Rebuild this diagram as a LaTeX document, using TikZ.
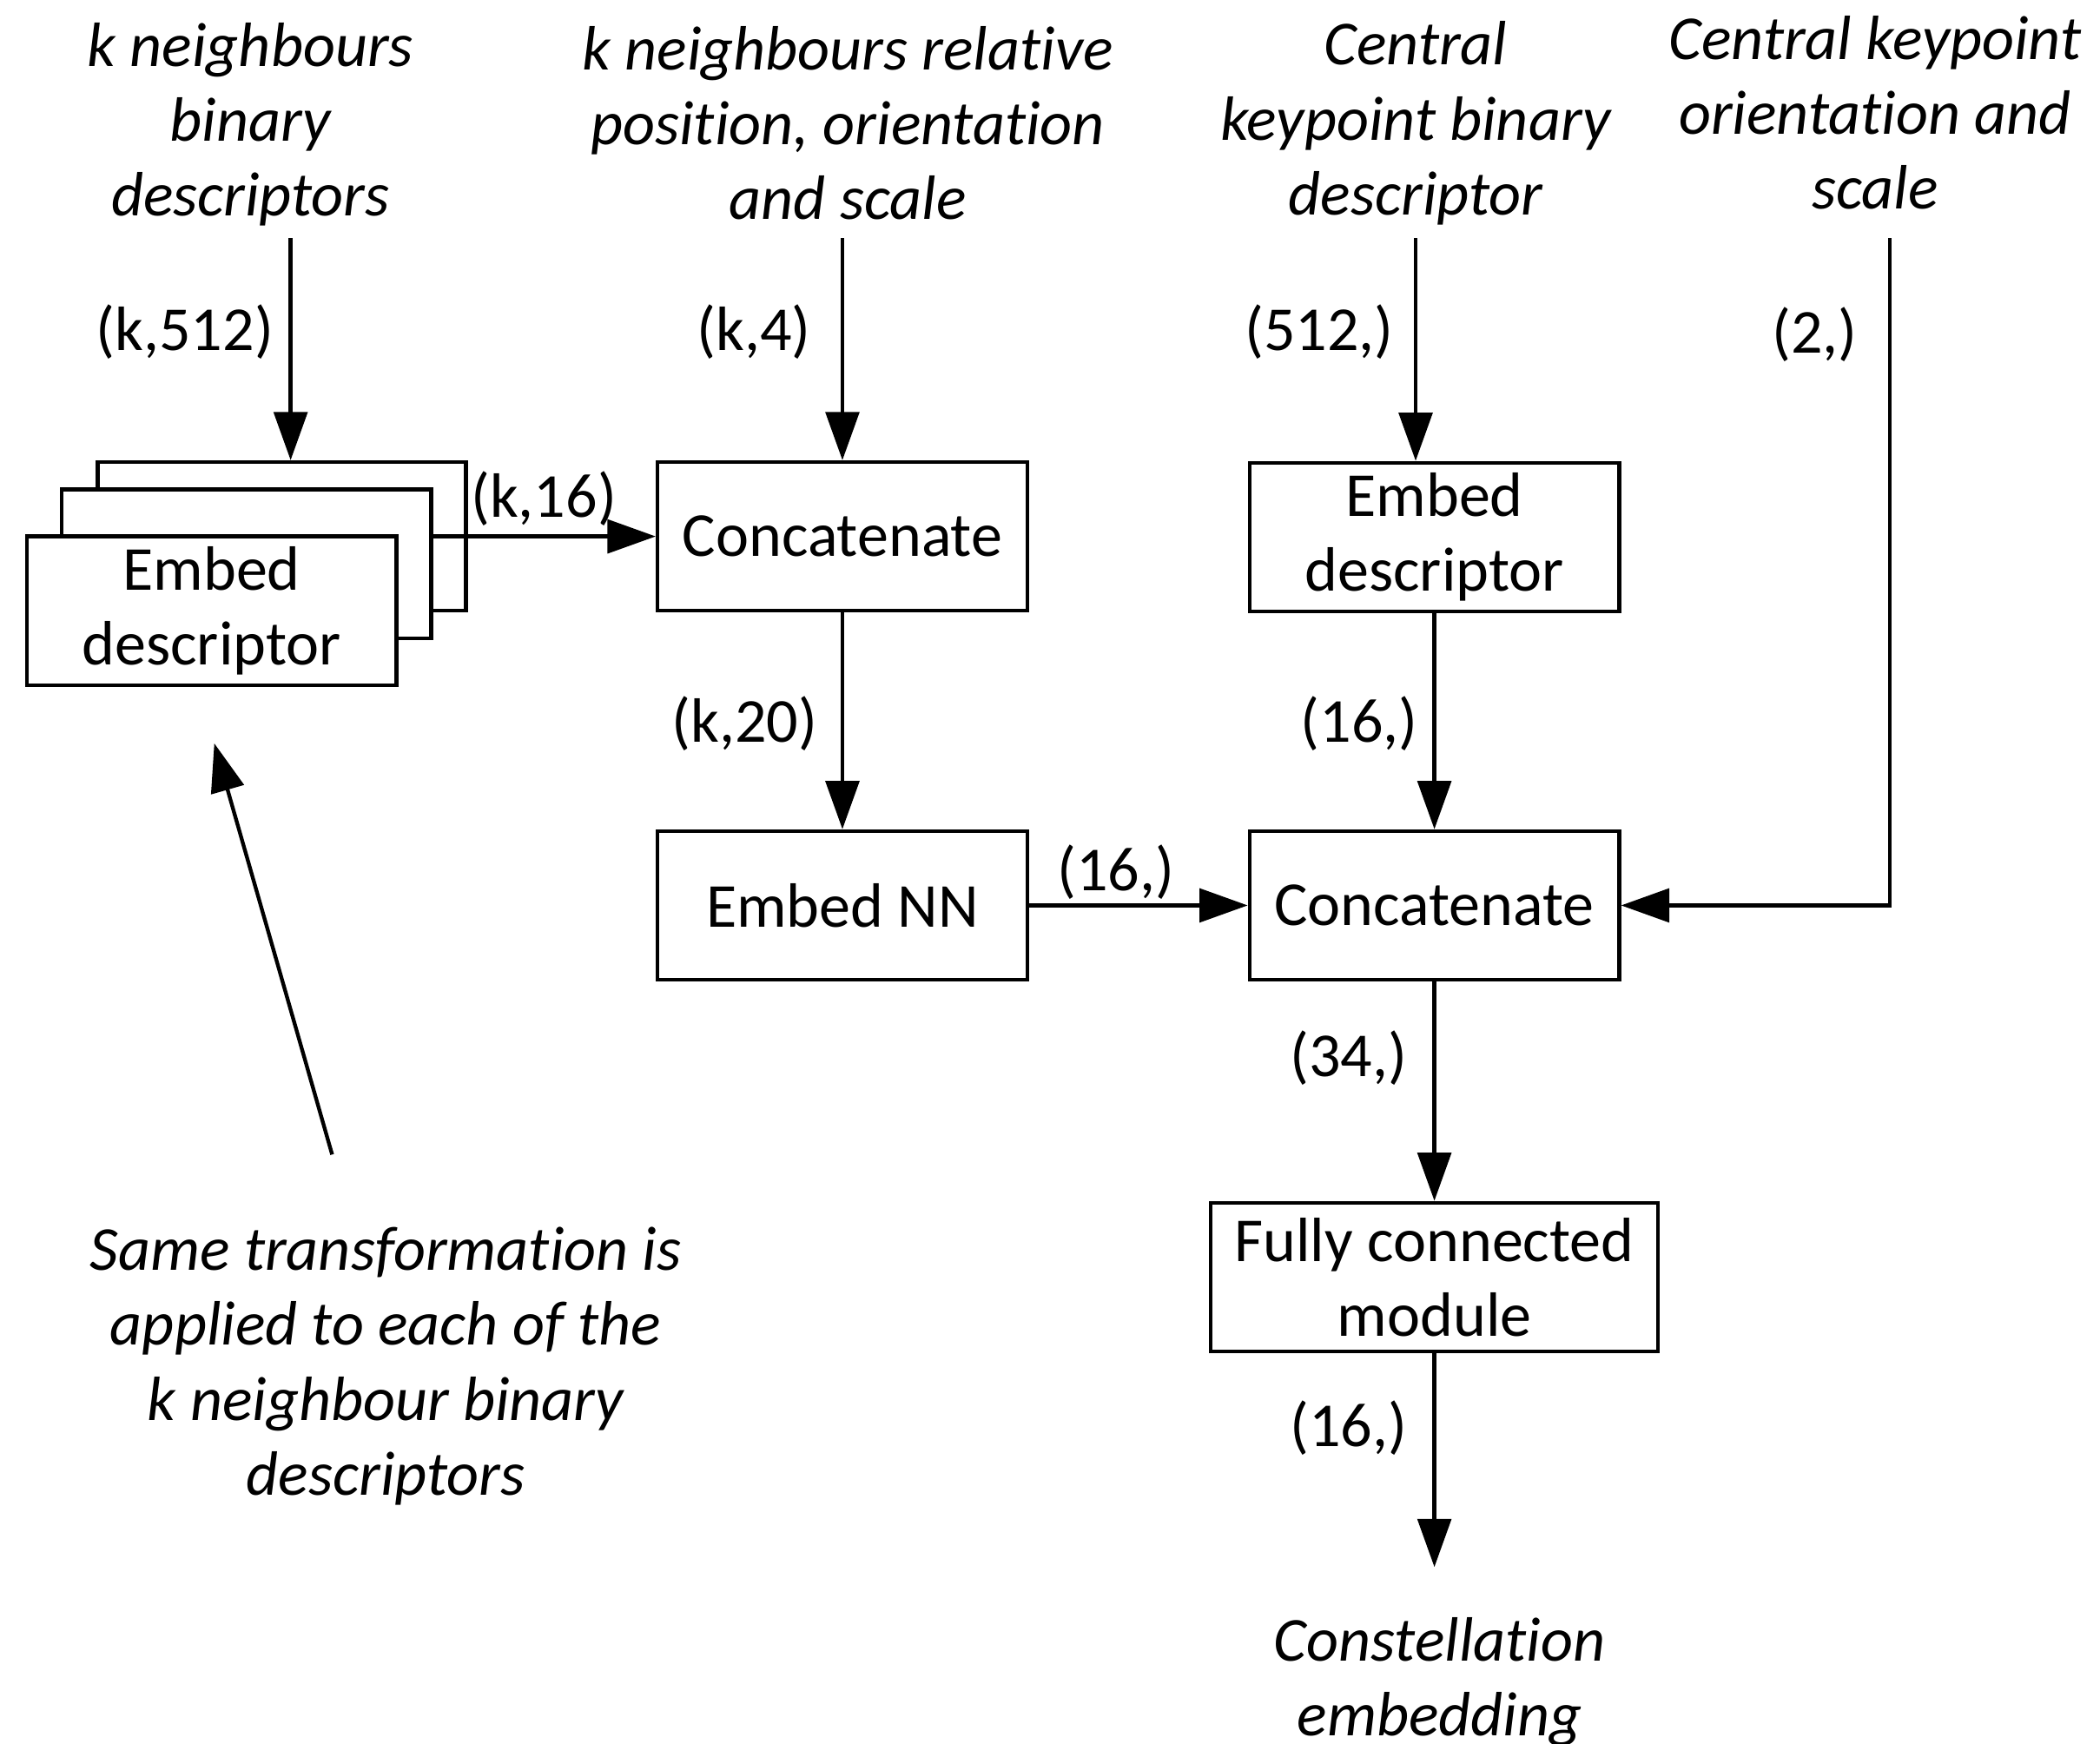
\documentclass[tikz,border=0pt]{standalone}
\usepackage{fontspec}
\setmainfont[Ligatures=CommonOff]{Carlito}
\usepackage{tikz}
\usetikzlibrary{arrows.meta, positioning, calc}
\tikzstyle{block} = [rectangle, draw, fill=white, minimum width=2.76cm, minimum height=1.11cm, inner ysep=1pt, align=center, line width=0.8pt, font=\fontsize{13.3}{15.9}\selectfont]
\tikzstyle{inlabel} = [align=center, font=\fontsize{13.3}{15.9}\selectfont\itshape]
\tikzstyle{dims} = [font=\fontsize{13.3}{15.9}\selectfont]
\tikzstyle{arrow} = [-{Triangle[length=3.6mm, width=2.5mm]}, line width=0.8pt]

\begin{document}
\begin{tikzpicture}
    \useasboundingbox (0,0) rectangle (15.68,-13.02);

    % Inputs
    \node[inlabel] (in1) at (1.87,-0.93) {k neighbours\\binary\\descriptors};
    \node[inlabel] (in2) at (6.33,-0.92) {k neighbours relative\\position, orientation\\and scale};
    \node[inlabel] (in3) at (10.57,-0.92) {Central\\keypoint binary\\descriptor};
    \node[inlabel] (in4) at (14.00,-0.84) {Central keypoint\\orientation and\\scale};
    \coordinate (s1) at (2.17,-1.78);
    \coordinate (s2) at (6.29,-1.78);
    \coordinate (s3) at (10.57,-1.78);
    \coordinate (s4) at (14.11,-1.78);

    % Stack of descriptor embeddings
    \node[block, minimum width=2.75cm] (back) at (2.105,-4.005) {};
    \node[block] (mid) at (1.84,-4.21) {};
    \node[block] (front) at (1.58,-4.56) {Embed\\descriptor};

    % Neighbour branch
    \node[block] (concat1) at (6.29,-4.005) {Concatenate};
    \node[block] (embnn) at (6.29,-6.76) {Embed NN};

    % Central branch
    \node[block] (embdesc) at (10.71,-4.01) {Embed\\descriptor};
    \node[block] (concat2) at (10.71,-6.76) {Concatenate};
    \node[block, minimum width=3.34cm] (fc) at (10.71,-9.535) {Fully connected\\module};

    % Output
    \node[inlabel] (out) at (10.75,-12.56) {Constellation\\embedding};
    \coordinate (e) at (10.71,-11.70);

    % Note
    \node[inlabel] (note) at (2.88,-10.20) {Same transformation is\\applied to each of the\\k neighbour binary\\descriptors};
    \coordinate (n1) at (2.48,-8.62);
    \coordinate (n2) at (1.60,-5.55);

    % Shapes
    \node[dims] at (1.38,-2.48) {(k,512)};
    \node[dims] at (5.63,-2.48) {(k,4)};
    \node[dims] at (9.85,-2.48) {(512,)};
    \node[dims] at (13.55,-2.50) {(2,)};
    \node[dims] at (4.06,-3.72) {(k,16)};
    \node[dims] at (5.56,-5.40) {(k,20)};
    \node[dims] at (8.33,-6.51) {(16,)};
    \node[dims] at (10.15,-5.40) {(16,)};
    \node[dims] at (10.07,-7.90) {(34,)};
    \node[dims] at (10.07,-10.66) {(16,)};

    % Arrows
    \draw[arrow] (s1) -- (s1 |- back.north);
    \draw[arrow] (s2) -- (concat1.north);
    \draw[arrow] (s3) -- (s3 |- embdesc.north);
    \draw[arrow] (s4) |- (concat2.east);
    \draw[arrow] (mid.east |- concat1.west) -- (concat1.west);
    \draw[arrow] (concat1) -- (embnn);
    \draw[arrow] (embnn) -- (concat2);
    \draw[arrow] (embdesc) -- (concat2);
    \draw[arrow] (concat2) -- (fc);
    \draw[arrow] (fc) -- (e);
    \draw[arrow] (n1) -- (n2);
\end{tikzpicture}
\end{document}
